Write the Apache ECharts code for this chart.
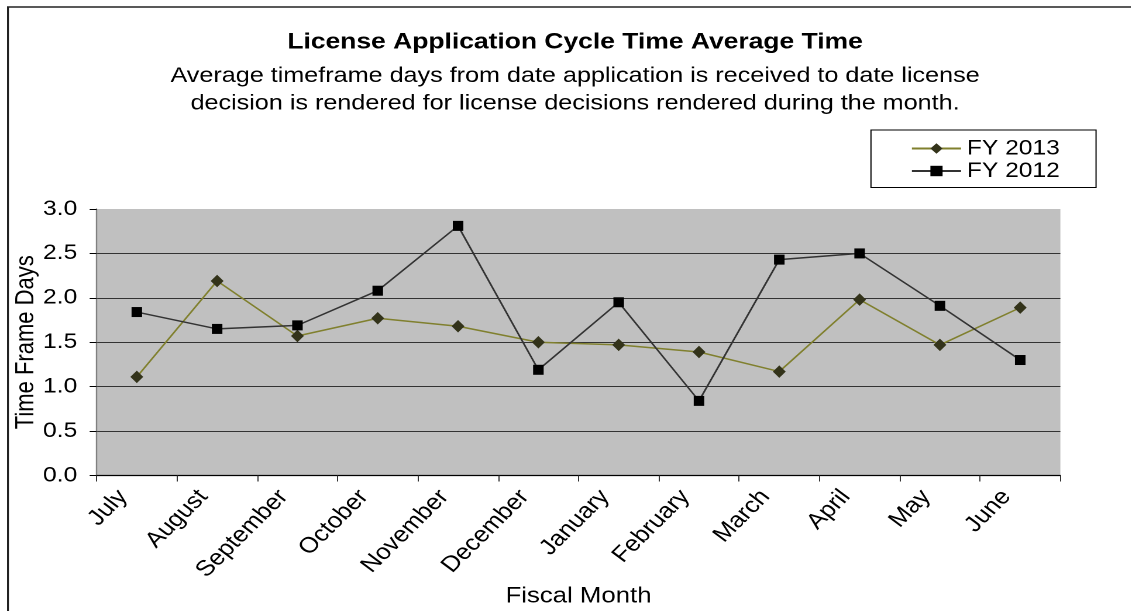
<!DOCTYPE html>
<html lang="en">
<head>
<meta charset="UTF-8">
<title>License Application Cycle Time Average Time</title>
<script src="https://cdn.jsdelivr.net/npm/echarts@6/dist/echarts.min.js"></script>
<style>
  html, body { margin: 0; padding: 0; background: #fff; overflow: hidden; }
  /* the picture is a bit wider than tall, text included, so stretch the chart sideways */
  #main { width: 966.7px; height: 611px; transform: scaleX(1.17); transform-origin: 0 0; }
</style>
</head>
<body>
<div id="main"></div>
<script>
// data
var months = ['July', 'August', 'September', 'October', 'November', 'December',
              'January', 'February', 'March', 'April', 'May', 'June'];
var fy2013 = [1.11, 2.19, 1.57, 1.77, 1.68, 1.50, 1.47, 1.39, 1.17, 1.98, 1.47, 1.89];
var fy2012 = [1.84, 1.65, 1.69, 2.08, 2.81, 1.19, 1.95, 0.84, 2.43, 2.50, 1.91, 1.30];
var yMin = 0, yMax = 3, yStep = 0.5;

var font = "'Liberation Sans', Arial, sans-serif";

var myChart = echarts.init(document.getElementById('main'), null, {devicePixelRatio: 2});

var option = {
  animation: false,
  backgroundColor: '#fff',
  textStyle: { fontFamily: font, color: '#000' },
  title: {
    left: 491.5,
    textAlign: 'center',
    top: 31.4,
    padding: 0,
    itemGap: 8,
    text: 'License Application Cycle Time Average Time',
    textStyle: { fontFamily: font, fontSize: 22.6, fontWeight: 'bold', color: '#000', lineHeight: 22 },
    subtext: 'Average timeframe days from date application is received to date license\ndecision is rendered for license decisions rendered during the month.',
    subtextStyle: { fontFamily: font, fontSize: 21.5, color: '#000', lineHeight: 27.5 }
  },
  legend: {
    orient: 'vertical',
    left: 744.4,
    top: 130,
    padding: [8, 31, 6, 34],
    itemGap: 1.5,
    itemWidth: 42,
    itemHeight: 13,
    borderColor: '#000',
    borderWidth: 1,
    backgroundColor: '#fff',
    textStyle: { fontFamily: font, fontSize: 21, color: '#000' },
    data: ['FY 2013', 'FY 2012']
  },
  grid: {
    left: 82.6,
    right: 60.7,
    top: 209,
    bottom: 135.5,
    show: true,
    backgroundColor: '#c0c0c0',
    borderWidth: 0,
    containLabel: false,
    outerBoundsMode: 'none'
  },
  xAxis: {
    type: 'category',
    data: months,
    boundaryGap: true,
    name: 'Fiscal Month',
    nameLocation: 'middle',
    nameGap: 110,
    nameMoveOverlap: false,
    nameTextStyle: { fontFamily: font, fontSize: 22, color: '#000' },
    axisLine: { lineStyle: { color: '#000', width: 1.2 } },
    axisTick: { show: true, length: 6, lineStyle: { color: '#333' } },
    axisLabel: {
      interval: 0,
      rotate: 49,
      margin: 4,
      // pushes the rotated text left so it ends short of the point column, like the original
      padding: [0, 18, 12, 0],
      fontFamily: font,
      fontSize: 22,
      color: '#000',
      hideOverlap: false
    },
    splitLine: { show: false }
  },
  yAxis: {
    type: 'value',
    min: yMin,
    max: yMax,
    interval: yStep,
    name: 'Time Frame Days',
    nameLocation: 'middle',
    nameGap: 49,
    nameMoveOverlap: false,
    nameTextStyle: { fontFamily: font, fontSize: 22, color: '#000' },
    axisLine: { show: true, lineStyle: { color: '#808080', width: 1.2 } },
    axisTick: { show: true, length: 6, lineStyle: { color: '#000' } },
    axisLabel: {
      margin: 16.6,
      fontFamily: font,
      fontSize: 21,
      color: '#000',
      formatter: function (v) { return v.toFixed(1); }
    },
    splitLine: {
      show: true,
      // no line on 0.0 (axis) and 3.0 (top of plot)
      lineStyle: { color: ['transparent', '#333', '#333', '#333', '#333', '#333', 'transparent'], width: 1 }
    }
  },
  graphic: [
    {
      type: 'rect',
      silent: true,
      shape: { x: 6.8, y: 7, width: 2000, height: 2000 },
      style: { fill: 'none', stroke: '#222', lineWidth: 1.6 },
      z: -1
    }
  ],
  series: [
    {
      name: 'FY 2013',
      type: 'line',
      data: fy2013,
      symbol: 'diamond',
      symbolSize: [11, 12.5],
      lineStyle: { color: '#80802e', width: 1.5 },
      itemStyle: { color: '#33331a' }
    },
    {
      name: 'FY 2012',
      type: 'line',
      data: fy2012,
      symbol: 'rect',
      symbolSize: [9, 10],
      lineStyle: { color: '#333333', width: 1.5 },
      itemStyle: { color: '#000' }
    }
  ]
};

myChart.setOption(option);
</script>
</body>
</html>
